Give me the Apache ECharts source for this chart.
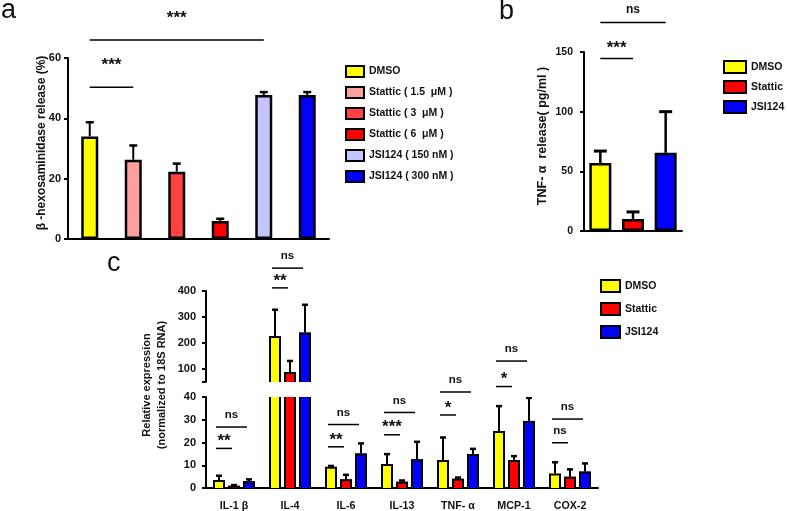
<!DOCTYPE html>
<html>
<head>
<meta charset="utf-8">
<script src="https://cdn.jsdelivr.net/npm/echarts@6/dist/echarts.min.js"></script>
<style>html,body{margin:0;padding:0;background:#fff}#c{width:787px;height:511px}</style>
</head>
<body>
<div id="c"></div>
<script>
// ---------- Panel a ----------
const aNames = ['DMSO', 'Stattic ( 1.5  \u03bcM )', 'Stattic ( 3  \u03bcM )', 'Stattic ( 6  \u03bcM )', 'JSI124 ( 150 nM )', 'JSI124 ( 300 nM )'];
const aMeans = [34, 26.3, 22.3, 6, 47.7, 47.7];
const aErrTop = [38.7, 31, 25, 6.7, 48.7, 48.7];
const aTicks = [0, 20, 40, 60];
const aSigFrom = [0, 0];
const aSigTo = [4, 1];
const aSigY = [66, 50.3];
const aSigText = ['***', '***'];

// ---------- Panel b ----------
const bNames = ['DMSO', 'Stattic', 'JSI124'];
const bMeans = [57, 10, 65.5];
const bErrTop = [67, 16, 100];
const bTicks = [0, 50, 100, 150];
const bSigFrom = [0, 0];
const bSigTo = [2, 1];
const bSigY = [174.8, 144.5];
const bSigText = ['ns', '***'];

// ---------- Panel c ----------
const cCats = ['IL-1 \u03b2', 'IL-4', 'IL-6', 'IL-13', 'TNF- \u03b1', 'MCP-1', 'COX-2'];
const cNames = ['DMSO', 'Stattic', 'JSI124'];
const cDMSO = [3.5, 227, 9.3, 10.5, 12.3, 25.1, 6.4];
const cDMSOErr = [5.4, 328, 9.7, 14.9, 22.2, 36, 11.3];
const cStattic = [1.0, 88, 3.8, 2.8, 4.1, 12.3, 5.0];
const cStatticErr = [1.3, 131, 5.8, 3.3, 4.6, 14, 8.2];
const cJSI = [3.0, 240, 15.2, 12.6, 14.9, 29.5, 7.2];
const cJSIErr = [3.8, 347, 19.6, 20.3, 17.2, 39.6, 10.8];
const cLowerTicks = [0, 10, 20, 30, 40];
const cUpperTicks = [100, 200, 300, 400];
const cUpperMin = 50; // bottom of the upper (broken) axis segment
// significance brackets: category, compared group (1 = Stattic, 2 = JSI124), height (axis units), text
const cSigCat = [0, 0, 1, 1, 2, 2, 3, 3, 4, 4, 5, 5, 6, 6];
const cSigTo = [2, 1, 2, 1, 2, 1, 2, 1, 2, 1, 2, 1, 2, 1];
const cSigY = [26.8, 17.4, 488, 412, 27.9, 18.1, 33.2, 23.4, 42.2, 32.1, 55.8, 44.6, 30.3, 19.9];
const cSigText = ['ns', '**', 'ns', '**', 'ns', '**', 'ns', '***', 'ns', '*', 'ns', '*', 'ns', 'ns'];
const cBreakCat = 1; // IL-4 is read on the upper (broken) axis

// ---------- styles ----------
const FONT = '"Liberation Sans", Arial, sans-serif';
const aColors = ['#ffff00', '#ff9f9f', '#ff4343', '#ff0000', '#c4c4ff', '#0000ff'];
const bColors = ['#ffff00', '#ff0000', '#0000ff'];
const BLACK = '#000';

const chart = echarts.init(document.getElementById('c'), null, {renderer: 'canvas'});

function valueAxis(grid, min, max, interval, fs, margin, extra) {
  return Object.assign({
    type: 'value', gridIndex: grid, min: min, max: max, interval: interval,
    splitLine: {show: false},
    axisLine: {show: true, lineStyle: {color: BLACK, width: 2}},
    axisTick: {show: true, inside: false, length: 4, lineStyle: {color: BLACK, width: 2}},
    axisLabel: {color: '#111', fontFamily: FONT, fontWeight: 'bold', fontSize: fs, margin: margin}
  }, extra || {});
}
function catAxis(grid, data, showLabel, showLine) {
  return {
    type: 'category', gridIndex: grid, data: data,
    axisLine: {show: showLine, lineStyle: {color: BLACK, width: 2}},
    axisTick: {show: false},
    axisLabel: {show: showLabel, color: '#111', fontFamily: FONT, fontWeight: 'bold', fontSize: 10.7, margin: 13, interval: 0},
    splitLine: {show: false}
  };
}

function errRender(capW, lw, step) {
  return function (params, api) {
    const cat = api.value(0);
    const sub = api.value(1);
    const p0 = api.coord([cat, api.value(2)]);
    const p1 = api.coord([cat, api.value(3)]);
    const x = p0[0] + (sub - 1) * step;
    return {
      type: 'group',
      children: [
        {type: 'line', shape: {x1: x, y1: p0[1], x2: x, y2: p1[1]}, style: {stroke: BLACK, lineWidth: lw}},
        {type: 'line', shape: {x1: x - capW / 2, y1: p1[1], x2: x + capW / 2, y2: p1[1]}, style: {stroke: BLACK, lineWidth: lw + 0.5}}
      ]
    };
  };
}

function sigRender(texts, offNs, offStar, fsNs, fsStar, step, startAdj, endAdj) {
  return function (params, api) {
    const cat0 = api.value(0), sub0 = api.value(1), cat1 = api.value(2), sub1 = api.value(3), y = api.value(4), ti = api.value(5);
    const p0 = api.coord([cat0, y]);
    const p1 = api.coord([cat1, y]);
    const x0 = p0[0] + (sub0 - 1) * step + startAdj;
    const x1 = p1[0] + (sub1 - 1) * step + endAdj;
    const t = texts[ti];
    const star = t.indexOf('*') >= 0;
    const ty = p0[1] - (star ? offStar : offNs);
    return {
      type: 'group',
      children: [
        {type: 'line', shape: {x1: x0, y1: p0[1], x2: x1, y2: p0[1]}, style: {stroke: BLACK, lineWidth: 1.5}},
        {type: 'text', x: (x0 + x1) / 2, y: ty, style: {text: t, fill: '#111', font: 'bold ' + (star ? fsStar : fsNs) + 'px ' + FONT, align: 'center', verticalAlign: 'middle', textAlign: 'center', textVerticalAlign: 'middle'}}
      ]
    };
  };
}

// bars of panel c, cut cleanly at the edges of each half of the broken axis
function cBarRender(params, api) {
  const cat = api.value(0), sub = api.value(1), v = api.value(2);
  const pTop = api.coord([cat, v]);
  const pBase = api.coord([cat, 0]);
  const cs = params.coordSys;
  const x = pTop[0] + (sub - 1) * 15;
  const yTop = Math.max(pTop[1], cs.y);
  const yBot = Math.min(pBase[1], cs.y + cs.height);
  if (yTop >= yBot) return null;
  const hw = 6;
  const topCut = pTop[1] < cs.y;
  const fill = api.visual('color');
  const children = [{type: 'rect', shape: {x: x - hw, y: yTop, width: 2 * hw, height: yBot - yTop}, style: {fill: fill}}];
  if (!topCut) {
    children.push({type: 'polyline', shape: {points: [[x - hw + 1, yBot], [x - hw + 1, yTop + 1], [x + hw - 1, yTop + 1], [x + hw - 1, yBot]]},
      style: {stroke: BLACK, lineWidth: 2, fill: null}});
  } else {
    children.push({type: 'line', shape: {x1: x - hw + 1, y1: yTop, x2: x - hw + 1, y2: yBot}, style: {stroke: BLACK, lineWidth: 2}});
    children.push({type: 'line', shape: {x1: x + hw - 1, y1: yTop, x2: x + hw - 1, y2: yBot}, style: {stroke: BLACK, lineWidth: 2}});
  }
  return {type: 'group', children: children};
}

const series = [];
// panel a bars
aNames.forEach(function (n, i) {
  series.push({
    type: 'bar', name: n, xAxisIndex: 0, yAxisIndex: 0,
    data: aMeans.map(function (v, j) { return j === i ? v : '-'; }),
    barWidth: 17, barGap: '-100%',
    itemStyle: {color: aColors[i], borderColor: BLACK, borderWidth: 2.5}
  });
});
series.push({
  type: 'custom', xAxisIndex: 0, yAxisIndex: 0, z: 5, silent: true,
  renderItem: errRender(8, 2, 0),
  encode: {x: 0, y: [2, 3]},
  data: aMeans.map(function (v, i) { return [i, 1, v, aErrTop[i]]; })
});
series.push({
  type: 'custom', xAxisIndex: 0, yAxisIndex: 0, z: 5, silent: true, clip: false,
  renderItem: sigRender(aSigText, 21, 22, 12, 17, 0, 0, 0),
  encode: {x: 0, y: 4},
  data: aSigFrom.map(function (f, i) { return [f, 1, aSigTo[i], 1, aSigY[i], i]; })
});

// panel b bars
bNames.forEach(function (n, i) {
  series.push({
    type: 'bar', name: n, xAxisIndex: 1, yAxisIndex: 1,
    data: bMeans.map(function (v, j) { return j === i ? v : '-'; }),
    barWidth: 22, barGap: '-100%',
    itemStyle: {color: bColors[i], borderColor: BLACK, borderWidth: 2.5}
  });
});
series.push({
  type: 'custom', xAxisIndex: 1, yAxisIndex: 1, z: 5, silent: true,
  renderItem: errRender(13, 2.5, 0),
  encode: {x: 0, y: [2, 3]},
  data: bMeans.map(function (v, i) { return [i, 1, v, bErrTop[i]]; })
});
series.push({
  type: 'custom', xAxisIndex: 1, yAxisIndex: 1, z: 5, silent: true, clip: false,
  renderItem: sigRender(bSigText, 13, 10, 12, 17, 0, 0, 0),
  encode: {x: 0, y: 4},
  data: bSigFrom.map(function (f, i) { return [f, 1, bSigTo[i], 1, bSigY[i], i]; })
});

// panel c (drawn in both halves of the broken axis)
const cMeans = [cDMSO, cStattic, cJSI];
const cErrs = [cDMSOErr, cStatticErr, cJSIErr];
[2, 3].forEach(function (g) {
  cNames.forEach(function (n, i) {
    series.push({
      type: 'custom', name: n, xAxisIndex: g, yAxisIndex: g, z: 2, clip: false,
      renderItem: cBarRender,
      itemStyle: {color: bColors[i], borderColor: BLACK, borderWidth: 2},
      encode: {x: 0, y: 2},
      data: cMeans[i].map(function (v, k) { return [k, i, v]; })
    });
  });
  const errData = [];
  cMeans.forEach(function (arr, s) {
    arr.forEach(function (v, k) { errData.push([k, s, v, cErrs[s][k]]); });
  });
  series.push({
    type: 'custom', xAxisIndex: g, yAxisIndex: g, z: 5, silent: true, clip: true,
    renderItem: errRender(6, 2, 15),
    encode: {x: 0, y: [2, 3]},
    data: errData
  });
  const sigData = [];
  cSigCat.forEach(function (c, i) {
    const upper = (c === cBreakCat);
    if ((g === 2) === upper) sigData.push([c, 0, c, cSigTo[i], cSigY[i], i]);
  });
  series.push({
    type: 'custom', xAxisIndex: g, yAxisIndex: g, z: 5, silent: true, clip: false,
    renderItem: sigRender(cSigText, 12, 7, 11.5, 17, 15, -3, -2),
    encode: {x: 0, y: 4},
    data: sigData
  });
});

const legendText = {fontFamily: FONT, fontWeight: 'bold', fontSize: 10.5, color: '#111'};
const option = {
  animation: false,
  backgroundColor: '#fff',
  grid: [
    {left: 68, top: 58, width: 261, height: 181, outerBoundsMode: 'none', containLabel: false},
    {left: 584, top: 52, width: 98, height: 179, outerBoundsMode: 'none', containLabel: false},
    {left: 206, top: 291, width: 392, height: 91, outerBoundsMode: 'none', containLabel: false},
    {left: 206, top: 397, width: 392, height: 91, outerBoundsMode: 'none', containLabel: false}
  ],
  xAxis: [
    catAxis(0, aNames, false, true),
    catAxis(1, bNames, false, true),
    catAxis(2, cCats, false, false),
    catAxis(3, cCats, true, true)
  ],
  yAxis: [
    valueAxis(0, aTicks[0], aTicks[aTicks.length - 1], aTicks[1] - aTicks[0], 11, 7),
    valueAxis(1, bTicks[0], bTicks[bTicks.length - 1], bTicks[1] - bTicks[0], 10.5, 11),
    valueAxis(2, cUpperMin, cUpperTicks[cUpperTicks.length - 1], cUpperMin, 11, 10, {
      axisLabel: {color: '#111', fontFamily: FONT, fontWeight: 'bold', fontSize: 11, margin: 10, customValues: cUpperTicks},
      axisTick: {show: true, length: 4, lineStyle: {color: BLACK, width: 2}, customValues: [cUpperMin].concat(cUpperTicks)}
    }),
    valueAxis(3, cLowerTicks[0], cLowerTicks[cLowerTicks.length - 1], cLowerTicks[1] - cLowerTicks[0], 11, 10)
  ],
  legend: [
    {orient: 'vertical', left: 340, top: 60, itemWidth: 18, itemHeight: 11, itemGap: 8, icon: 'rect',
      itemStyle: {borderColor: BLACK, borderWidth: 2}, textStyle: legendText, data: aNames, selectedMode: false},
    {orient: 'vertical', left: 718, top: 55, itemWidth: 22, itemHeight: 12, itemGap: 6, icon: 'rect',
      itemStyle: {borderColor: BLACK, borderWidth: 2}, textStyle: legendText, data: bNames, selectedMode: false},
    {orient: 'vertical', left: 595, top: 274, itemWidth: 19, itemHeight: 12, itemGap: 9, icon: 'rect',
      itemStyle: {borderColor: BLACK, borderWidth: 2}, textStyle: legendText, data: cNames, selectedMode: false}
  ],
  graphic: [
    {type: 'text', left: 1, top: -3, style: {text: 'a', font: '27px ' + FONT, fill: '#111'}},
    {type: 'text', left: 499, top: -2, style: {text: 'b', font: '27px ' + FONT, fill: '#111'}},
    {type: 'text', left: 107, top: 250, style: {text: 'c', font: '27px ' + FONT, fill: '#111'}},
    {type: 'text', x: 42, y: 143, rotation: Math.PI / 2,
      style: {text: '\u03b2 -hexosaminidase release (%)', font: 'bold 12px ' + FONT, fill: '#111',
        align: 'center', verticalAlign: 'middle', textAlign: 'center', textVerticalAlign: 'middle'}},
    {type: 'text', x: 543, y: 136, rotation: Math.PI / 2,
      style: {text: 'TNF- \u03b1  release( pg/ml )', font: 'bold 12.5px ' + FONT, fill: '#111',
        align: 'center', verticalAlign: 'middle', textAlign: 'center', textVerticalAlign: 'middle'}},
    {type: 'text', x: 154, y: 385, rotation: Math.PI / 2,
      style: {text: 'Relative expression\n(normalized to 18S RNA)', font: 'bold 11px ' + FONT, fill: '#111', lineHeight: 15,
        align: 'center', verticalAlign: 'middle', textAlign: 'center', textVerticalAlign: 'middle'}}
  ],
  series: series
};
chart.setOption(option);
</script>
</body>
</html>
